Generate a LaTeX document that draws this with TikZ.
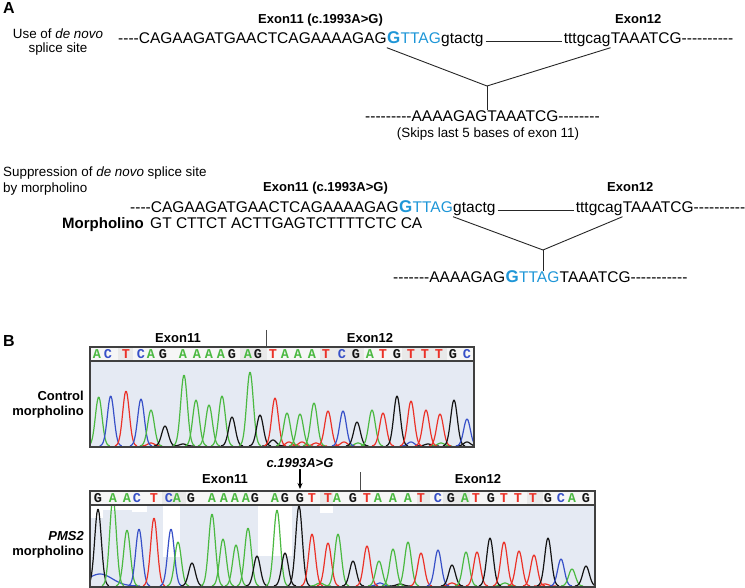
\documentclass[tikz,border=0pt]{standalone}
\usepackage{fontspec}
\setmainfont{Liberation Sans}[Ligatures=TeXOff]
\newfontfamily\basefont{Liberation Mono}
\usetikzlibrary{positioning, calc, arrows.meta}

\definecolor{hiblue}{RGB}{30,150,215}
\definecolor{trA}{RGB}{75,185,65}
\definecolor{trC}{RGB}{55,80,200}
\definecolor{trG}{RGB}{20,20,20}
\definecolor{trT}{RGB}{235,50,40}
\definecolor{plotbg}{RGB}{229,234,243}
\definecolor{stripbg}{RGB}{246,246,246}
\definecolor{stripdk}{RGB}{233,233,233}

\newcommand{\seqfont}{\fontsize{15.5}{18}\selectfont}
\newcommand{\labfont}{\bfseries\fontsize{13}{15}\selectfont}
\newcommand{\txtfont}{\fontsize{13.4}{16}\selectfont}

\tikzset{
  exlab/.style={font=\labfont, inner sep=0pt, anchor=base},
  note/.style={font=\txtfont, inner sep=0pt, anchor=base},
  link/.style={draw=black!85, line width=0.9pt},
  trace/.style={line width=1.2pt, line join=round},
  frame/.style={draw=black!75, line width=1.4pt},
  basech/.style={font=\basefont\bfseries\fontsize{13.5}{14}\selectfont, inner sep=0pt},
  baseA/.style={text=trA}, baseC/.style={text=trC},
  baseG/.style={text=trG}, baseT/.style={text=trT}
}

\begin{document}
\begin{tikzpicture}[x=1pt, y=-1pt]

\useasboundingbox (0,0) rectangle (745,588); % same size as the figure

% panel letters
\node (A) [font=\bfseries\fontsize{16}{18}\selectfont, inner sep=0pt, anchor=base west] at (3,14) {A};
\node (B) [font=\bfseries\fontsize{16}{18}\selectfont, inner sep=0pt, anchor=base west] at (3,346) {B};

% ---------------- A: use of de novo splice site
\node (use1) [note] at (58,39) {Use of \textit{de novo}};
\node (use2) [note] at (58,53) {splice site};
\node (ex11a) [exlab, anchor=base west] at (258,24) {Exon11 (c.1993A>G)};
\node (ex12a) [exlab, anchor=base west] at (615,24) {Exon12};

% ---------------- A: suppression by morpholino
\node (sup1) [note, anchor=base west] at (3,177) {Suppression of \textit{de novo} splice site};
\node (sup2) [note, anchor=base west] at (3,193) {by morpholino};
\node (ex11b) [exlab, anchor=base west] at (263,192) {Exon11 (c.1993A>G)};
\node (ex12b) [exlab, anchor=base west] at (607,192) {Exon12};
\node (mo) [font=\bfseries\fontsize{15}{17}\selectfont, inner sep=0pt, anchor=base west] at (62,229) {Morpholino};

% sequences: fixed text height/depth so that pieces line up on one baseline
\begin{scope}[every node/.style={font=\seqfont, inner sep=0pt, text height=11.5pt, text depth=3.5pt},
              hi/.style={text=hiblue},
              big/.style={text=hiblue, font=\bfseries\fontsize{17}{18}\selectfont},
              node distance=0pt]

    \node (s1a) [anchor=base west] at (118,44) {----CAGAAGATGAACTCAGAAAAGAG};
    \node (s1g) [big, right=of s1a] {G};
    \node (s1t) [hi, right=of s1g]  {TTAG};
    \node (s1i) [right=of s1t]      {gtactg};
    \node (s1j) [right=80pt of s1i] {tttgcag};
    \node (s1e) [right=of s1j]      {TAAATCG----------};

    \node (p1) [anchor=base west] at (365,122) {---------AAAAGAGTAAATCG--------};

    \node (s2a) [anchor=base west] at (130,213) {----CAGAAGATGAACTCAGAAAAGAG};
    \node (s2g) [big, right=of s2a] {G};
    \node (s2t) [hi, right=of s2g]  {TTAG};
    \node (s2i) [right=of s2t]      {gtactg};
    \node (s2j) [right=80pt of s2i] {tttgcag};
    \node (s2e) [right=of s2j]      {TAAATCG----------};

    \node (moseq) [anchor=base west] at (150,229) {GT CTTCT ACTTGAGTCTTTTCTC CA};

    \node (p2a) [anchor=base west] at (393,283) {-------AAAAGAG};
    \node (p2g) [big, right=of p2a] {G};
    \node (p2t) [hi, right=of p2g]  {TTAG};
    \node (p2e) [right=of p2t]      {TAAATCG-----------};

\end{scope}

\node (skip) [note] at (488,138) {(Skips last 5 bases of exon 11)};

% splicing lines
\coordinate (j1) at (487,86);
\coordinate (j2) at (543,250);
\draw [link, shorten <=2pt, shorten >=2pt] (s1i.mid east) -- (s1j.mid west);
\draw [link] (s1g.south west) -- (j1) -- (s1j.south east);
\draw [link] (j1) -- (j1 |- p1.north);
\draw [link, shorten <=2pt, shorten >=2pt] (s2i.mid east) -- (s2j.mid west);
\draw [link] (s2t.south east) -- (j2) -- (s2j.south east);
\draw [link] (j2) -- (j2 |- p2a.north);

% ---------------- B: control morpholino trace
\node (cex11) [exlab] at (178,342) {Exon11};
\node (cex12) [exlab] at (370,342) {Exon12};
\draw [black!70, line width=0.9pt] (266,330) -- (266,347);
\node (ctl1) [font=\labfont, inner sep=0pt, anchor=base east] at (84,400) {Control};
\node (ctl2) [font=\labfont, inner sep=0pt, anchor=base east] at (84,415) {morpholino};

\fill [stripbg] (90,347) rectangle (474,361);
\foreach \a/\b in {118/133, 240/267, 320/364, 402/447}
    \fill [stripdk] (\a,348) rectangle (\b,360);
\fill [plotbg] (90,361) rectangle (474,447);

\begin{scope}
    \clip (90,361) rectangle (474,446);
    \foreach \px/\ph/\pc in {289/4/trT, 302/4/trT, 316/3/trT, 344/4/trT, 358/3/trA, 411/4/trC,
                             428/2/trG, 441/3/trA, 467/4/trG, 151/3/trT, 183/2/trG, 273/6/trG,
                             98.7/49/trA, 110.7/50/trC, 126/55/trT, 141/47/trC, 151/36/trA,
                             165/20/trG, 184/71/trA, 196/46/trA, 209/41/trA, 222/50/trA,
                             232/29/trG, 250/74/trA, 260/31/trG, 275/48/trT, 287/33/trA,
                             300/32/trA, 314/43/trA, 328/35/trT, 343/35/trC, 357/24/trG,
                             372/36/trA, 383/33/trT, 397/50/trG, 411/45/trT, 426/36/trT,
                             440/32/trT, 454/46/trG, 467/27/trC}
        \draw [trace, \pc] plot [domain={\px-11}:{\px+11}, samples=30]
              (\x, {446-\ph*exp(-((\x-\px)*(\x-\px))/22)});
\end{scope}

\draw [frame] (90,347) rectangle (474,447);
\draw [frame] (90,361) -- (474,361);

\foreach \lx/\lb [count=\i] in {97/A, 108/C, 126/T, 141/C, 151/A, 163/G, 183/A, 197/A, 209/A,
                                221/A, 232/G, 248/A, 258/G, 273/T, 285/A, 298/A, 312/A, 326/T,
                                342/C, 356/G, 370/A, 383/T, 397/G, 411/T, 425/T, 439/T, 453/G, 467/C}
    \node (cb\i) [basech, base\lb] at (\lx,354.5) {\lb};

% ---------------- B: PMS2 morpholino trace
\node (mut) [font=\bfseries\itshape\fontsize{13}{15}\selectfont, inner sep=0pt, anchor=base] at (300,467) {c.1993A>G};
\coordinate (mutpos) at (300,489);
\draw [-{Stealth[length=6pt, width=5pt]}, line width=1.3pt] ([yshift=-2pt]mut.south) -- (mutpos);
\node (pex11) [exlab] at (225,483) {Exon11};
\node (pex12) [exlab] at (478,483) {Exon12};
\draw [black!70, line width=0.9pt] (360,472) -- (360,491);
\node (pms1) [font=\bfseries\itshape\fontsize{13}{15}\selectfont, inner sep=0pt, anchor=base east] at (84,540) {PMS2};
\node (pms2) [font=\labfont, inner sep=0pt, anchor=base east] at (84,555) {morpholino};

\fill [stripbg] (90,491) rectangle (595,505);
\foreach \a/\b in {162/186, 320/333, 417/430, 443/470, 527/543}
    \fill [stripdk] (\a,492) rectangle (\b,504);
\fill [plotbg] (90,505) rectangle (595,588);
% low quality steps
\foreach \a/\b/\c in {90/103/518, 103/132/510, 132/147/512, 163/180/557, 258/292/556, 320/333/513}
    \fill [white] (\a,505) rectangle (\b,\c);

\begin{scope}
    \clip (90,505) rectangle (595,587);
    \draw [trace, trC] plot [domain=90:140, samples=30] (\x, {586-12*exp(-((\x-100)*(\x-100))/300)});
    \foreach \px/\ph/\pc in {320/3/trA, 380/3/trC, 400/2/trG, 452/3/trT, 505/3/trA, 545/2/trT,
                             98/77/trG, 113/88/trA, 127/56/trA, 139/57/trC, 154/68/trT,
                             171/57/trC, 178/44/trA, 192/23/trG, 212/72/trA, 223/47/trA,
                             236/41/trA, 248/58/trA, 257/30/trG, 277/76/trA, 285/33/trG,
                             299/80/trG, 312/52/trT, 328/43/trT, 338/52/trA, 353/25/trG,
                             367/40/trT, 379/25/trA, 393/37/trA, 408/44/trA, 421/33/trT,
                             438/36/trC, 452/21/trG, 466/34/trA, 477/34/trT, 490/48/trG,
                             504/44/trT, 519/35/trT, 534/31/trT, 548/48/trG, 561/27/trC,
                             572/17/trA, 586/20/trG}
        \draw [trace, \pc] plot [domain={\px-11}:{\px+11}, samples=30]
              (\x, {586-\ph*exp(-((\x-\px)*(\x-\px))/22)});
\end{scope}

\draw [frame] (90,491) rectangle (595,587);
\draw [frame] (90,505) -- (595,505);

\foreach \lx/\lb [count=\i] in {98/G, 113/A, 127/A, 137/C, 154/T, 169/C, 177/A, 191/G, 212/A,
                                224/A, 235/A, 246/A, 255/G, 275/A, 285/G, 300/G, 312/T, 328/T,
                                337/A, 353/G, 367/T, 378/A, 393/A, 408/A, 421/T, 438/C, 451/G,
                                465/A, 476/T, 491/G, 504/T, 518/T, 533/T, 548/G, 561/C, 572/A, 586/G}
    \node (pb\i) [basech, base\lb] at (\lx,498.5) {\lb};

\end{tikzpicture}
\end{document}
